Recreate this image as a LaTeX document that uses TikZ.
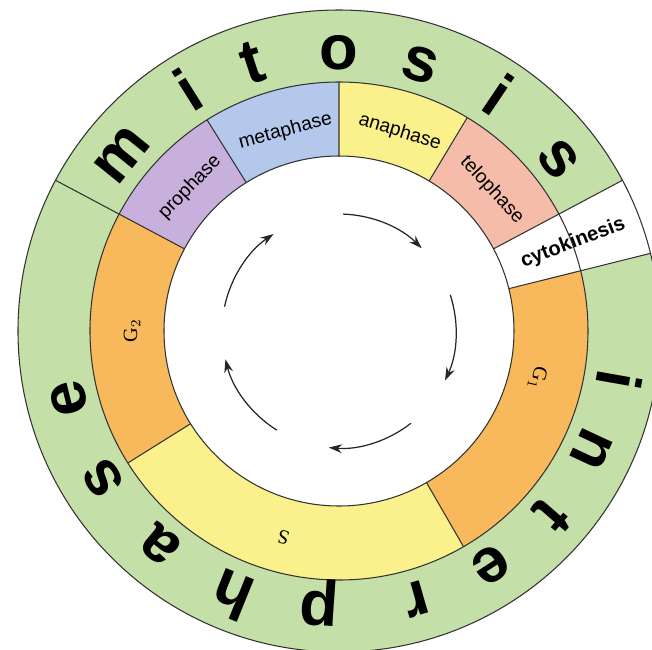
\documentclass[tikz,border=0pt]{standalone}
\usepackage{fontspec}
\setmainfont{Liberation Sans}
\newfontfamily\serifG{Liberation Serif}
\usetikzlibrary{arrows.meta}
\definecolor{RingGreen}{HTML}{C4DFA8}
\definecolor{ProLilac}{HTML}{C8B0DC}
\definecolor{MetaBlue}{HTML}{B4C8EC}
\definecolor{AnaYellow}{HTML}{FAF08C}
\definecolor{TeloPink}{HTML}{F6BCAA}
\definecolor{GapOrange}{HTML}{F8B85C}
\definecolor{LineGrey}{HTML}{333333}

\begin{document}
\begin{tikzpicture}[scale=0.02,
    phase/.style={font=\fontsize{11}{13}\selectfont, inner sep=0pt},
    bigletter/.style={font=\fontsize{36}{40}\selectfont\bfseries, anchor=base, inner sep=0pt},
    gaplabel/.style={font=\serifG\fontsize{11.5}{13}\selectfont, inner sep=0pt},
    cyclearrow/.style={-{Stealth[length=7.5pt,width=5pt]}, line width=0.7pt, black!85}]
    \path[use as bounding box, fill=white] (-339,-318) rectangle (313,331);
    % outer ring: mitosis / interphase
    \fill[RingGreen, even odd rule] (0,0) circle[radius=321] (0,0) circle[radius=249];
    % cytokinesis cuts through both rings
    \fill[white] (14:175) arc[start angle=14, end angle=28, radius=175] -- (28:321)
        arc[start angle=28, end angle=14, radius=321] -- cycle;
    % mitosis phases
    \fill[ProLilac] (122:175) arc[start angle=122, end angle=152, radius=175] -- (152:249)
        arc[start angle=152, end angle=122, radius=249] -- cycle;
    \fill[MetaBlue] (90:175) arc[start angle=90, end angle=122, radius=175] -- (122:249)
        arc[start angle=122, end angle=90, radius=249] -- cycle;
    \fill[AnaYellow] (59:175) arc[start angle=59, end angle=90, radius=175] -- (90:249)
        arc[start angle=90, end angle=59, radius=249] -- cycle;
    \fill[TeloPink] (28:175) arc[start angle=28, end angle=59, radius=175] -- (59:249)
        arc[start angle=59, end angle=28, radius=249] -- cycle;
    % interphase stages
    \fill[GapOrange] (-60:175) arc[start angle=-60, end angle=14, radius=175] -- (14:249)
        arc[start angle=14, end angle=-60, radius=249] -- cycle;
    \fill[AnaYellow] (212:175) arc[start angle=212, end angle=300, radius=175] -- (300:249)
        arc[start angle=300, end angle=212, radius=249] -- cycle;
    \fill[GapOrange] (152:175) arc[start angle=152, end angle=212, radius=175] -- (212:249)
        arc[start angle=212, end angle=152, radius=249] -- cycle;
    % circles and dividers
    \draw[LineGrey, line width=0.6pt] (0,0) circle[radius=175] (0,0) circle[radius=249] (0,0) circle[radius=321];
    \draw[LineGrey, line width=0.6pt] (90:175) -- (90:249) (122:175) -- (122:249)
        (59:175) -- (59:249) (-60:175) -- (-60:249) (212:175) -- (212:249)
        (152:175) -- (152:321) (28:175) -- (28:321) (14:175) -- (14:321);
    % phase labels
    \node[phase, rotate=46] (pro) at (136:207) {prophase};
    \node[phase, rotate=15] (meta) at (105:207) {metaphase};
    \node[phase, rotate=-17] (ana) at (73:208) {anaphase};
    \node[phase, rotate=-47] (telo) at (42.7:208) {telophase};
    \node[phase, font=\fontsize{11.5}{13}\selectfont\bfseries, rotate=21] (cyto) at (20.6:250) {cytokinesis};
    \node[gaplabel, rotate=-103] (gone) at (-13.4:204) {G$_1$};
    \node[gaplabel, rotate=165] (sphase) at (-105:214) {S};
    \node[gaplabel, rotate=90] (gtwo) at (180:207) {G$_2$};
    % mitosis
    \node[bigletter, rotate=51] (mitM) at (141:262) {m};
    \node[bigletter, rotate=32] (mitI) at (122:262) {i};
    \node[bigletter, rotate=18] (mitT) at (108:262) {t};
    \node[bigletter, rotate=0] (mitO) at (90:262) {o};
    \node[bigletter, rotate=-17] (mitS) at (73:262) {s};
    \node[bigletter, rotate=-34] (mitIi) at (56:262) {i};
    \node[bigletter, rotate=-52] (mitSs) at (38:262) {s};
    % interphase
    \node[bigletter, rotate=-100] (intI) at (-10:262) {i};
    \node[bigletter, rotate=-115] (intN) at (-25:262) {n};
    \node[bigletter, rotate=-131] (intT) at (-41:262) {t};
    \node[bigletter, rotate=-147] (intE) at (-57:262) {e};
    \node[bigletter, rotate=-164] (intR) at (-74:262) {r};
    \node[bigletter, rotate=-184] (intP) at (-94:262) {p};
    \node[bigletter, rotate=-202] (intH) at (-112:262) {h};
    \node[bigletter, rotate=-220] (intA) at (-130:262) {a};
    \node[bigletter, rotate=-238] (intS) at (-148:262) {s};
    \node[bigletter, rotate=-256] (intEe) at (-166:262) {e};
    % cycle arrows
    \draw[cyclearrow] (88:117) arc[start angle=88, end angle=45, radius=117];
    \draw[cyclearrow] (18:117) arc[start angle=18, end angle=-25, radius=117];
    \draw[cyclearrow] (-52:117) arc[start angle=-52, end angle=-95, radius=117];
    \draw[cyclearrow] (-122:117) arc[start angle=-122, end angle=-166, radius=117];
    \draw[cyclearrow] (168:117) arc[start angle=168, end angle=124, radius=117];
\end{tikzpicture}
\end{document}
